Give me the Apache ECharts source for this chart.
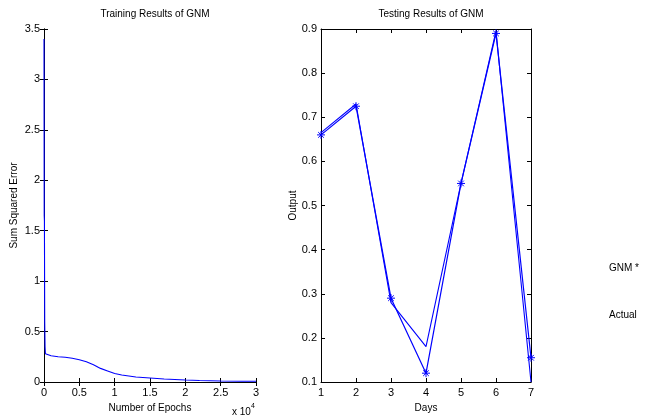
<!DOCTYPE html>
<html><head><meta charset="utf-8">
<script src="https://cdn.jsdelivr.net/npm/echarts@6/dist/echarts.min.js"></script>
<style>html,body{margin:0;padding:0;background:#fff}#c{width:668px;height:419px}</style>
</head><body><div id="c"></div>
<script>
const epochs = [0, 30, 60, 100, 150, 200, 300, 1000, 2000, 3000, 4000, 5000, 6000, 7000, 8000, 9000, 10000, 11000, 12000, 13000, 15000, 17000, 20000, 22000, 25000, 28000, 30000];
const sse = [3.4, 1.65, 1.6, 0.6, 0.35, 0.28, 0.27, 0.26, 0.25, 0.245, 0.235, 0.22, 0.2, 0.17, 0.135, 0.11, 0.085, 0.07, 0.06, 0.05, 0.04, 0.03, 0.02, 0.015, 0.01, 0.008, 0.007];
const days = [1, 2, 3, 4, 5, 6, 7];
const gnm = [0.66, 0.725, 0.29, 0.12, 0.55, 0.89, 0.155];
const actual = [0.665, 0.73, 0.28, 0.18, 0.55, 0.895, 0.1];
const epochTicks = ['0', '0.5', '1', '1.5', '2', '2.5', '3'];

const FONT = 'Liberation Sans';
const star = 'path://M0,-10L0,10M-10,0L10,0M-7,-7L7,7M-7,7L7,-7';
const chart = echarts.init(document.getElementById('c'));
const axisLine = {show: true, lineStyle: {color: '#000', width: 1}};
const tick = {show: true, inside: true, length: 4, lineStyle: {color: '#000'}};
const lab = {color: '#000', fontFamily: FONT, fontSize: 11};
const nameStyle = {color: '#000', fontFamily: FONT, fontSize: 10};
function mkX(grid, min, max, interval, pos, opts) {
  return Object.assign({type: 'value', gridIndex: grid, min, max, interval, position: pos,
    axisLine, axisTick: tick, splitLine: {show: false},
    axisLabel: pos === 'bottom' ? Object.assign({margin: 5}, lab) : {show: false}}, opts || {});
}
function mkY(grid, min, max, interval, pos, opts) {
  return Object.assign({type: 'value', gridIndex: grid, min, max, interval, position: pos,
    axisLine, axisTick: tick, splitLine: {show: false},
    axisLabel: pos === 'left' ? Object.assign({margin: 4}, lab) : {show: false}}, opts || {});
}
chart.setOption({
  animation: false,
  backgroundColor: '#fff',
  title: [
    {text: 'Training Results of GNM', left: 150, top: 4, textAlign: 'center', textStyle: {fontFamily: FONT, fontSize: 10, fontWeight: 'normal', color: '#000'}},
    {text: 'Testing Results of GNM', left: 426, top: 4, textAlign: 'center', textStyle: {fontFamily: FONT, fontSize: 10, fontWeight: 'normal', color: '#000'}}
  ],
  grid: [
    {left: 44, top: 29, width: 212, height: 353},
    {left: 321, top: 29, width: 210, height: 353}
  ],
  xAxis: [
    mkX(0, 0, 30000, 5000, 'bottom', {name: 'Number of Epochs', nameLocation: 'middle', nameGap: 16, nameTextStyle: nameStyle,
      axisLabel: Object.assign({margin: 5, formatter: v => epochTicks[Math.round(v / 5000)]}, lab)}),
    mkX(0, 0, 30000, 5000, 'top'),
    mkX(1, 1, 7, 1, 'bottom', {name: 'Days', nameLocation: 'middle', nameGap: 16, nameTextStyle: nameStyle}),
    mkX(1, 1, 7, 1, 'top')
  ],
  yAxis: [
    mkY(0, 0, 3.5, 0.5, 'left', {name: 'Sum Squared Error', nameLocation: 'middle', nameGap: 25, nameTextStyle: nameStyle}),
    mkY(0, 0, 3.5, 0.5, 'right'),
    mkY(1, 0.1, 0.9, 0.1, 'left', {name: 'Output', nameLocation: 'middle', nameGap: 23, nameTextStyle: nameStyle,
      axisLabel: Object.assign({margin: 4, formatter: v => v.toFixed(1)}, lab)}),
    mkY(1, 0.1, 0.9, 0.1, 'right')
  ],
  series: [
    {type: 'line', xAxisIndex: 0, yAxisIndex: 0, data: epochs.map((e, i) => [e, sse[i]]),
      showSymbol: false, symbol: 'none', lineStyle: {color: '#0000ff', width: 1.1}},
    {type: 'line', name: 'GNM', xAxisIndex: 2, yAxisIndex: 2, data: days.map((d, i) => [d, gnm[i]]),
      symbol: star, symbolSize: 8, itemStyle: {color: 'none', borderColor: '#0000ff', borderWidth: 1},
      lineStyle: {color: '#0000ff', width: 1.2}},
    {type: 'line', name: 'Actual', xAxisIndex: 2, yAxisIndex: 2, data: days.map((d, i) => [d, actual[i]]),
      symbol: 'none', lineStyle: {color: '#0000ff', width: 1.1}}
  ],
  graphic: [
    {type: 'text', left: 232, top: 403, style: {text: '{a|x 10}{b|4}', rich: {a: {fontFamily: FONT, fontSize: 10, fill: '#000', padding: [4, 0, 0, 0]}, b: {fontFamily: FONT, fontSize: 7, fill: '#000', verticalAlign: 'top', padding: [0, 0, 6, 0]}}}},
    {type: 'text', left: 609, top: 263, style: {text: 'GNM *', fontFamily: FONT, fontSize: 10, fill: '#000'}},
    {type: 'text', left: 609, top: 310, style: {text: 'Actual', fontFamily: FONT, fontSize: 10, fill: '#000'}}
  ]
});
</script></body></html>
